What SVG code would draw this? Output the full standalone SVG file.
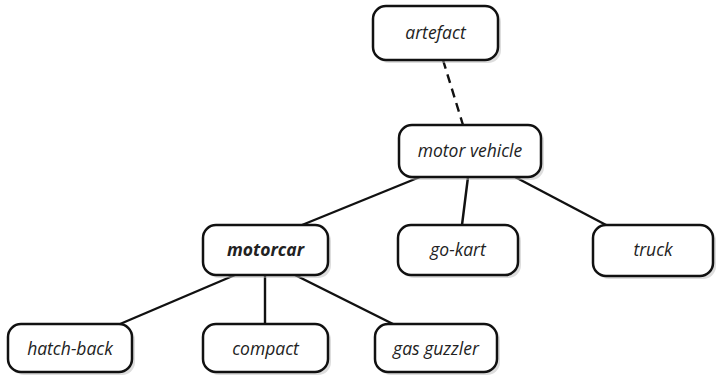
<svg xmlns="http://www.w3.org/2000/svg" width="717" height="375" viewBox="0 0 717 375">
<style>
.box{fill:#fff;stroke:#111;stroke-width:2.5}
.sh{fill:#bbb;opacity:0.5}
.lbl{font-family:"Open Sans","Liberation Sans",sans-serif;font-style:italic;font-size:17.5px;fill:#222;text-anchor:middle}
.edge{stroke:#111;stroke-width:2.4;fill:none}
</style>
<rect width="717" height="375" fill="#fff"/>
<g id="connectors">
<line class="edge" x1="443" y1="60" x2="463" y2="125" stroke-dasharray="9,6"/>
<line class="edge" x1="420" y1="177" x2="302" y2="225"/>
<line class="edge" x1="468" y1="177" x2="462" y2="225"/>
<line class="edge" x1="515" y1="177" x2="608" y2="226"/>
<line class="edge" x1="235" y1="275" x2="120" y2="324"/>
<line class="edge" x1="265" y1="275" x2="265" y2="324"/>
<line class="edge" x1="295" y1="275" x2="393" y2="324"/>
</g>
<g id="artefact"><rect class="sh" x="376" y="9" width="125" height="54" rx="13"/><rect class="box" x="373" y="6" width="125" height="54" rx="13"/><text class="lbl" x="435.5" y="39">artefact</text></g>
<g id="motor-vehicle"><rect class="sh" x="402" y="128" width="142" height="52" rx="13"/><rect class="box" x="399" y="125" width="142" height="52" rx="13"/><text class="lbl" x="470" y="157">motor vehicle</text></g>
<g id="motorcar"><rect class="sh" x="206" y="228" width="125" height="50" rx="13"/><rect class="box" x="203" y="225" width="125" height="50" rx="13"/><text class="lbl" x="265.5" y="256" font-weight="bold">motorcar</text></g>
<g id="go-kart"><rect class="sh" x="401" y="228" width="120" height="50" rx="13"/><rect class="box" x="398" y="225" width="120" height="50" rx="13"/><text class="lbl" x="458" y="256">go-kart</text></g>
<g id="truck"><rect class="sh" x="596" y="228" width="120" height="51" rx="13"/><rect class="box" x="593" y="225" width="120" height="51" rx="13"/><text class="lbl" x="653" y="256">truck</text></g>
<g id="hatch-back"><rect class="sh" x="11" y="327" width="124" height="48" rx="13"/><rect class="box" x="8" y="324" width="124" height="48" rx="13"/><text class="lbl" x="70" y="355">hatch-back</text></g>
<g id="compact"><rect class="sh" x="206" y="327" width="125" height="48" rx="13"/><rect class="box" x="203" y="324" width="125" height="48" rx="13"/><text class="lbl" x="265.5" y="355">compact</text></g>
<g id="gas-guzzler"><rect class="sh" x="378" y="327" width="122" height="48" rx="13"/><rect class="box" x="375" y="324" width="122" height="48" rx="13"/><text class="lbl" x="436" y="355">gas guzzler</text></g>
</svg>
